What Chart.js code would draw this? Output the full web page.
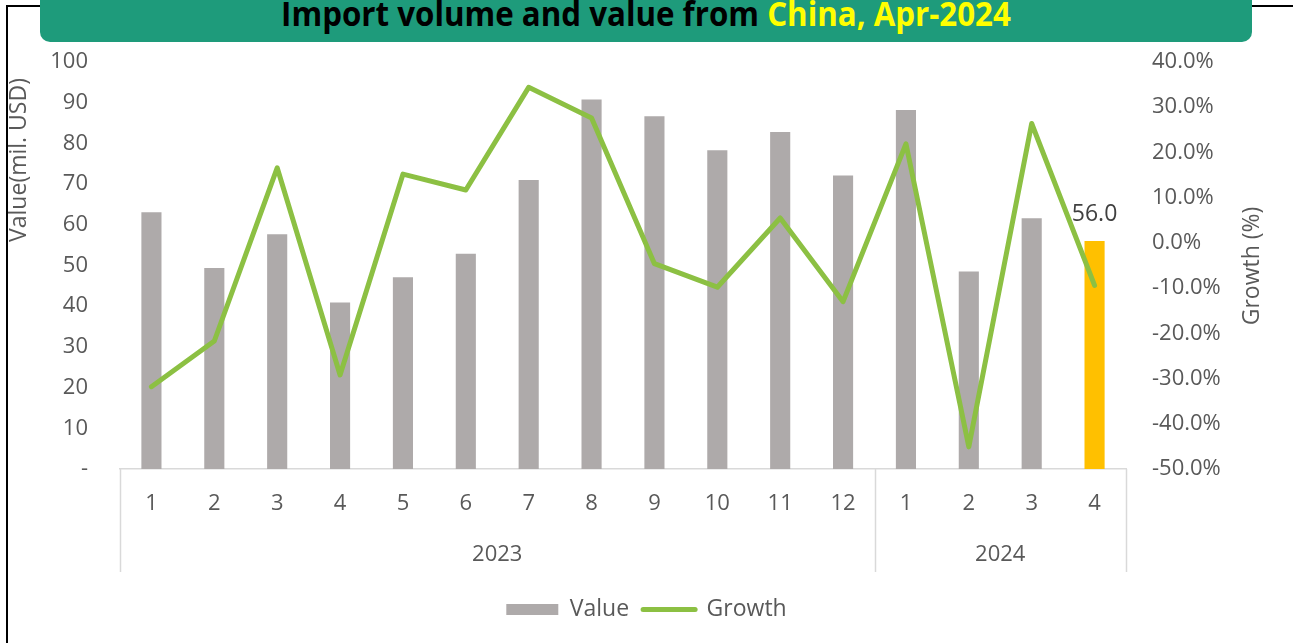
<!DOCTYPE html>
<html lang="en">
<head>
    <meta charset="UTF-8">
    <title>Import volume and value from China</title>
    <script src="https://cdn.jsdelivr.net/npm/chart.js@4.4.1/dist/chart.umd.min.js"></script>
    <style>
        body {
            margin: 0;
            background: #fff;
            font-family: "Open Sans", sans-serif;
        }
        .page {
            position: relative;
            width: 1293px;
            height: 643px;
            overflow: hidden;
        }
        /* black frame, only top and left edges visible */
        .frame {
            position: absolute;
            left: 6px;
            top: 5px;
            width: 1400px;
            height: 800px;
            border-left: 2px solid #000;
            border-top: 2px solid #000;
        }
        .title_bar {
            position: absolute;
            left: 40px;
            top: -12px;
            width: 1212px;
            height: 54px;
            background: #1e9b7b;
            border-radius: 10px;
            z-index: 2;
            overflow: hidden;
        }
        .title_bar span.t {
            position: absolute;
            left: 0;
            right: 0;
            top: 8px;
            text-align: center;
            font-weight: 700;
            font-size: 34px;
            line-height: 34px;
            color: #000;
            white-space: nowrap;
            transform: scaleX(0.92);
        }
        .title_bar .hl { color: #ffff00; }
        canvas { position: absolute; left: 0; top: 0; }
    </style>
</head>
<body>
<div class="page">
    <div class="frame"></div>
    <div class="title_bar"><span class="t">Import volume and value from <span class="hl">China, Apr-2024</span></span></div>
    <canvas id="myChart" width="1293" height="643"></canvas>
</div>
<script>
    // months on the axis, grouped by year
    const months = ['1', '2', '3', '4', '5', '6', '7', '8', '9', '10', '11', '12', '1', '2', '3', '4'];
    const years = ['2023', '2024'];
    const yearSpans = [12, 4];

    // import value, mil. USD
    const values = [63.1, 49.4, 57.7, 40.9, 47.1, 52.9, 71.0, 90.8, 86.7, 78.3, 82.8, 72.1, 88.2, 48.5, 61.6, 56.0];
    // growth, %
    const growth = [-31.8, -21.7, 16.6, -29.2, 15.2, 11.7, 34.4, 27.6, -4.6, -9.8, 5.5, -13.0, 21.9, -45.1, 26.4, -9.4];

    const leftTicks = [0, 10, 20, 30, 40, 50, 60, 70, 80, 90, 100];
    const rightTicks = [-50, -40, -30, -20, -10, 0, 10, 20, 30, 40];

    const GREY = '#aeaaaa';
    const GOLD = '#ffc000';
    const GREEN = '#8cc043';
    const TXT = '#595959';
    const FONT = '"Open Sans", sans-serif';

    // year rows + group separators under the month labels
    const yearGroups = {
        id: 'yearGroups',
        afterDraw(chart) {
            const x = chart.scales.x;
            const ctx = chart.ctx;
            const top = chart.chartArea.bottom;
            const step = x.getPixelForValue(1) - x.getPixelForValue(0);
            ctx.save();
            ctx.strokeStyle = '#d9d9d9';
            ctx.lineWidth = 1.5;
            ctx.fillStyle = TXT;
            ctx.font = '22px ' + FONT;
            ctx.textAlign = 'center';
            ctx.textBaseline = 'middle';
            let start = 0;
            const edges = [x.getPixelForValue(0) - step / 2];
            yearSpans.forEach((n, i) => {
                const a = x.getPixelForValue(start) - step / 2;
                const b = x.getPixelForValue(start + n - 1) + step / 2;
                edges.push(b);
                ctx.fillText(years[i], (a + b) / 2, top + 86);
                start += n;
            });
            edges.forEach(e => {
                ctx.beginPath();
                ctx.moveTo(Math.round(e) + 0.5, top);
                ctx.lineTo(Math.round(e) + 0.5, top + 103);
                ctx.stroke();
            });
            ctx.restore();
        }
    };

    // rotated axis titles
    const axisTitles = {
        id: 'axisTitles',
        afterDraw(chart) {
            const ctx = chart.ctx;
            [['Value(mil. USD)', 19, 160], ['Growth (%)', 1252, 266]].forEach(([t, x, y]) => {
                ctx.save();
                ctx.fillStyle = TXT;
                ctx.font = '23px ' + FONT;
                ctx.textAlign = 'center';
                ctx.textBaseline = 'middle';
                ctx.translate(x, y);
                ctx.rotate(-Math.PI / 2);
                ctx.fillText(t, 0, 0);
                ctx.restore();
            });
        }
    };

    // value label above the latest bar
    const lastLabel = {
        id: 'lastLabel',
        afterDatasetsDraw(chart) {
            const meta = chart.getDatasetMeta(0);
            const i = values.length - 1;
            const bar = meta.data[i];
            const ctx = chart.ctx;
            ctx.save();
            ctx.fillStyle = '#404040';
            ctx.font = '23px ' + FONT;
            ctx.textAlign = 'center';
            ctx.textBaseline = 'middle';
            ctx.fillText(values[i].toFixed(1), bar.x, bar.y - 27);
            ctx.restore();
        }
    };

    var ctx1 = document.getElementById('myChart').getContext('2d');
    var myChart = new Chart(ctx1, {
        data: {
            labels: months,
            datasets: [{
                type: 'bar',
                label: 'Value',
                data: values,
                backgroundColor: values.map((v, i) => i === values.length - 1 ? GOLD : GREY),
                barPercentage: 0.32,
                categoryPercentage: 1,
                yAxisID: 'y',
                order: 2
            }, {
                type: 'line',
                label: 'Growth',
                data: growth,
                borderColor: GREEN,
                borderWidth: 5,
                borderCapStyle: 'round',
                borderJoinStyle: 'round',
                pointRadius: 0,
                tension: 0,
                yAxisID: 'y1',
                order: 1
            }]
        },
        options: {
            responsive: false,
            animation: false,
            layout: { padding: { top: 62, bottom: 12, left: 0, right: 0 } },
            plugins: {
                tooltip: { enabled: false },
                legend: {
                    position: 'bottom',
                    labels: {
                        usePointStyle: true,
                        pointStyleWidth: 52,
                        boxHeight: 11,
                        padding: 14,
                        color: TXT,
                        font: { family: FONT, size: 23 },
                        generateLabels: () => [
                            { text: 'Value', pointStyle: 'rect', fillStyle: GREY, strokeStyle: GREY, lineWidth: 0, fontColor: TXT, datasetIndex: 0 },
                            { text: 'Growth', pointStyle: 'line', fillStyle: GREEN, strokeStyle: GREEN, lineWidth: 5, lineCap: 'round', fontColor: TXT, datasetIndex: 1 }
                        ]
                    }
                }
            },
            scales: {
                x: {
                    grid: { display: false, drawTicks: false },
                    border: { display: true, color: '#d9d9d9', width: 1.5 },
                    ticks: { color: TXT, font: { family: FONT, size: 22 }, padding: 22, maxRotation: 0, autoSkip: false },
                    afterFit: s => { s.height = 115; }
                },
                y: {
                    position: 'left',
                    min: 0,
                    max: 100,
                    grid: { display: false, drawTicks: false },
                    border: { display: false },
                    afterBuildTicks: s => { s.ticks = leftTicks.map(v => ({ value: v })); },
                    ticks: {
                        color: TXT,
                        font: { family: FONT, size: 22 },
                        padding: 32,
                        callback: v => v === 0 ? '-' : v
                    },
                    afterFit: s => { s.width = 120; }
                },
                y1: {
                    position: 'right',
                    min: -50,
                    max: 40,
                    grid: { display: false, drawTicks: false },
                    border: { display: false },
                    afterBuildTicks: s => { s.ticks = rightTicks.map(v => ({ value: v })); },
                    ticks: {
                        color: TXT,
                        font: { family: FONT, size: 22 },
                        padding: 26,
                        callback: v => v.toFixed(1) + '%'
                    },
                    afterFit: s => { s.width = 167; }
                }
            }
        },
        plugins: [yearGroups, axisTitles, lastLabel]
    });
</script>
</body>
</html>
